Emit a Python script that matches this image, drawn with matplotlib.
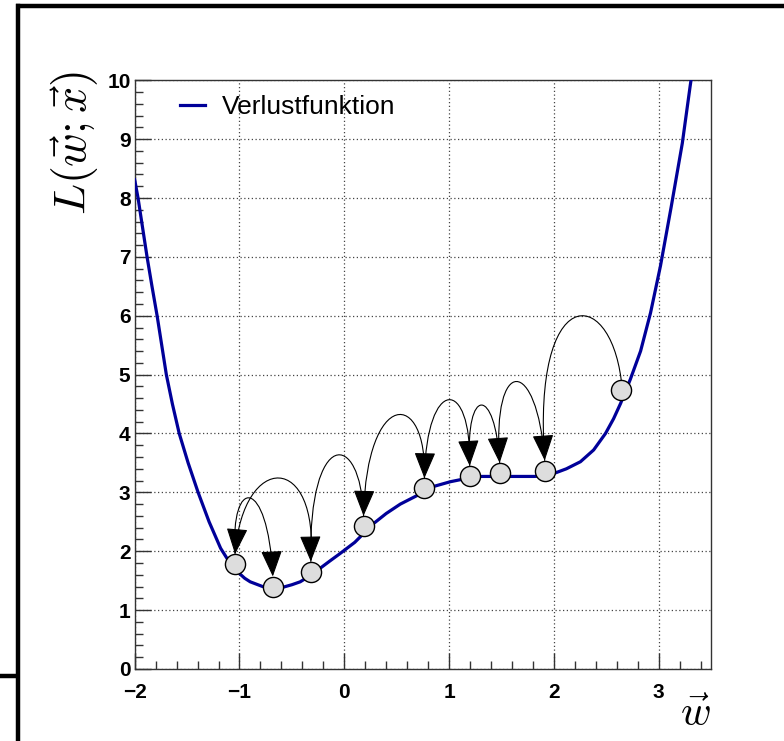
import numpy as np
import matplotlib
matplotlib.use("Agg")
import matplotlib.pyplot as plt
from matplotlib.path import Path
from matplotlib.patches import FancyArrowPatch
from matplotlib.lines import Line2D
from matplotlib.ticker import MultipleLocator

plt.rcParams['mathtext.fontset'] = 'cm'

# Verlustfunktion
curve_x = [-2.0, -1.968, -1.925, -1.882, -1.835, -1.786, -1.742, -1.698, -1.64, -1.575,
           -1.49, -1.395, -1.29, -1.18, -1.12, -1.06, -1.0, -0.95, -0.898,
           -0.78, -0.68, -0.58, -0.50, -0.42, -0.33, -0.23, -0.14, -0.04, 0.10, 0.28,
           0.40, 0.535, 0.70, 0.853, 1.012, 1.15, 1.30, 1.50, 1.70, 1.81, 1.92, 2.0,
           2.12, 2.254, 2.38, 2.493, 2.57, 2.637, 2.73, 2.828, 2.923, 3.018, 3.12,
           3.226, 3.30, 3.35]
curve_y = [8.31, 8.0, 7.5, 7.0, 6.5, 6.0, 5.5, 5.0, 4.5, 4.0,
           3.5, 3.0, 2.5, 2.05, 1.88, 1.73, 1.62, 1.54, 1.48,
           1.40, 1.37, 1.39, 1.43, 1.48, 1.58, 1.71, 1.83, 1.96, 2.15, 2.47,
           2.64, 2.80, 2.95, 3.10, 3.18, 3.23, 3.27, 3.27, 3.27, 3.27, 3.28, 3.32,
           3.40, 3.52, 3.72, 4.0, 4.25, 4.51, 4.92, 5.40, 6.05, 6.85, 7.85,
           8.93, 9.89, 10.5]

# Punkte des Gradientenabstiegs
step_x = [-1.042, -0.682, -0.319, 0.184, 0.765, 1.197, 1.483, 1.913, 2.643]
step_y = [1.78, 1.40, 1.654, 2.43, 3.07, 3.28, 3.33, 3.37, 4.74]

# Sprünge: (von, nach, Scheitel x, Scheitel y)
jumps = [
    (8, 7, 2.19, 5.96),
    (7, 6, 1.643, 4.88),
    (6, 5, 1.309, 4.48),
    (5, 4, 0.996, 4.57),
    (4, 3, 0.497, 4.31),
    (3, 2, -0.086, 3.62),
    (2, 0, -0.621, 3.24),
    (0, 1, -0.898, 2.90),
]

x_ticks = [-2, -1, 0, 1, 2, 3]
y_ticks = list(range(0, 11))

fig = plt.figure(figsize=(7.84, 7.41), dpi=100)
ax = fig.add_axes([0.1718, 0.0973, 0.9069 - 0.1718, 0.8916 - 0.0973])

# Rahmen der Leinwand
fig.add_artist(Line2D([17.5 / 784, 17.5 / 784], [0, 1 - 6 / 741], color='black', lw=3.2,
                      transform=fig.transFigure))
fig.add_artist(Line2D([16 / 784, 1], [1 - 6 / 741, 1 - 6 / 741], color='black', lw=3.2,
                      transform=fig.transFigure, solid_capstyle='butt'))
fig.add_artist(Line2D([0, 17.5 / 784], [1 - 676 / 741, 1 - 676 / 741], color='black', lw=3.2,
                      transform=fig.transFigure, solid_capstyle='butt'))

ax.plot(curve_x, curve_y, color='#000099', lw=2.3, zorder=3, label='Verlustfunktion')

# Bögen mit Pfeilspitzen
for src, dst, px, py in jumps:
    sx, sy = step_x[src], step_y[src] + 0.17
    ex, ey = step_x[dst], step_y[dst] + 0.17
    c = (8 * py - sy - ey) / 6
    d = (8 * px - 4 * sx - 4 * ex) / 6
    verts = [(sx, sy), (sx + d, c), (ex + d, c), (ex, ey)]
    path = Path(verts, [Path.MOVETO, Path.CURVE4, Path.CURVE4, Path.CURVE4])
    arr = FancyArrowPatch(path=path, arrowstyle='-|>,head_length=1.1,head_width=0.45',
                          mutation_scale=15, color='black', lw=0.8, zorder=4)
    ax.add_patch(arr)

ax.plot(step_x, step_y, 'o', ms=14.5, mfc='#dddddd', mec='black', mew=1.0, zorder=5)

ax.set_xlim(-2, 3.5)
ax.set_ylim(0, 10)
ax.set_xticks(x_ticks)
ax.set_yticks(y_ticks)
ax.xaxis.set_minor_locator(MultipleLocator(0.2))
ax.yaxis.set_minor_locator(MultipleLocator(0.2))
ax.tick_params(which='both', direction='in', top=False, right=False, width=1.0, color='#333333')
ax.tick_params(which='major', length=11.5)
ax.tick_params(which='minor', length=5.8)
ax.tick_params(axis='x', pad=10)
ax.tick_params(axis='y', pad=3)
for lab in ax.get_xticklabels() + ax.get_yticklabels():
    lab.set_fontfamily('Liberation Sans')
    lab.set_fontweight('bold')
    lab.set_fontsize(15)
for sp in ax.spines.values():
    sp.set_linewidth(1.0)
    sp.set_color('#333333')

ax.grid(True, which='major', linestyle=(0, (1, 2)), color='#444444', lw=0.9)
ax.set_axisbelow(True)

ax.set_ylabel(r'$L(\vec{w};\vec{x})$', fontsize=33, loc='top', labelpad=5)
ax.yaxis.label.set_y(1.016)
ax.set_xlabel(r'$\vec{w}$', fontsize=30, loc='right', labelpad=-6)

leg = ax.legend(loc='center left', bbox_to_anchor=(0.078, 0.9546), frameon=False,
                prop={'family': 'Liberation Sans', 'size': 19}, handlelength=0.95,
                handletextpad=0.65, borderpad=0, borderaxespad=0)

fig.savefig('out.png', dpi=100)
